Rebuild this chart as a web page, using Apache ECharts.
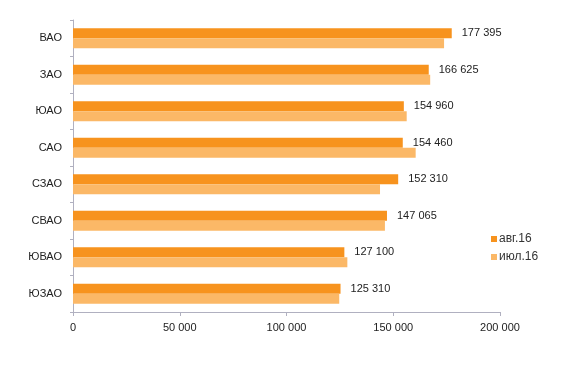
<!DOCTYPE html>
<html><head><meta charset="utf-8">
<script src="https://cdn.jsdelivr.net/npm/echarts@6/dist/echarts.min.js"></script>
<style>html,body{margin:0;padding:0;background:#fff}#c{width:582px;height:365px}</style>
</head><body><div id="c"></div>
<script>
var categories = ['ВАО','ЗАО','ЮАО','САО','СЗАО','СВАО','ЮВАО','ЮЗАО'];
var aug16 = [177395,166625,154960,154460,152310,147065,127100,125310];
var jul16 = [173800,167300,156300,160500,143800,146100,128500,124700];
var seriesNames = ['авг.16','июл.16'];
var xTicks = [0,50000,100000,150000,200000];

function fmt(v){return String(v).replace(/\B(?=(\d{3})+(?!\d))/g,' ');}
var chart = echarts.init(document.getElementById('c'));
chart.setOption({
  animation:false,
  textStyle:{fontFamily:'Arial, "Liberation Sans", sans-serif'},
  grid:{left:73,right:82,top:20,bottom:53,containLabel:false},
  legend:{orient:'vertical',left:486,top:228,itemWidth:6,itemHeight:6,itemGap:6,
    icon:'rect',textStyle:{fontSize:12,color:'#333',padding:[0,0,0,-3]},data:seriesNames},
  xAxis:{type:'value',min:xTicks[0],max:xTicks[xTicks.length-1],interval:50000,
    axisLine:{show:true,lineStyle:{color:'#b0b0c0'}},
    axisTick:{show:true,length:4,lineStyle:{color:'#b0b0c0'}},
    splitLine:{show:false},
    axisLabel:{fontSize:11,color:'#222',margin:10,formatter:function(v){return fmt(v);}}},
  yAxis:{type:'category',data:categories,inverse:true,
    axisLine:{show:true,lineStyle:{color:'#b0b0c0'}},
    axisTick:{show:true,length:3,lineStyle:{color:'#b0b0c0'}},
    axisLabel:{fontSize:11,color:'#222',margin:11}},
  series:[
    {name:seriesNames[0],type:'bar',data:aug16,barWidth:10,barGap:'0%',barCategoryGap:'45%',
     itemStyle:{color:'#F7931E'},
     label:{show:true,position:'right',distance:10,fontSize:11,color:'#222',formatter:function(p){return fmt(p.value);}}},
    {name:seriesNames[1],type:'bar',data:jul16,barWidth:10,barGap:'0%',
     itemStyle:{color:'#FBB867'}}
  ]
});
</script></body></html>
